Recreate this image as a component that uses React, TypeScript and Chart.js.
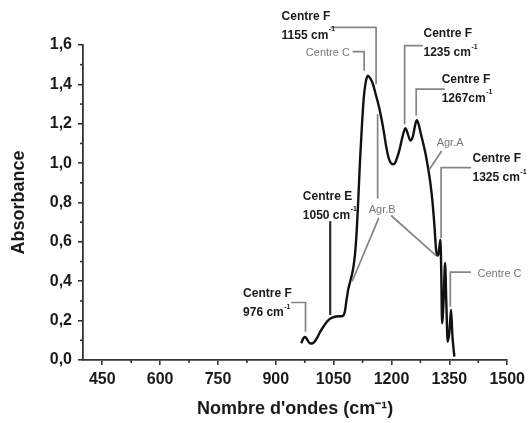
import React, { useEffect, useRef } from "react";
import { Chart, registerables } from "chart.js";

Chart.register(...registerables);

// ---- spectrum data (wavenumber cm-1, absorbance) ----
const WAVENUMBERS = [
  966, 970, 975, 979, 983, 988, 994, 1000, 1007, 1013, 1022, 1031, 1038, 1044, 1050, 1057,
  1064, 1070, 1075, 1079, 1083, 1088, 1093, 1097, 1101, 1105, 1109, 1113, 1118, 1123,
  1128, 1133, 1138.5, 1145, 1152, 1160, 1167, 1174, 1180, 1186, 1192, 1197, 1203, 1209,
  1215, 1221, 1228, 1236, 1242, 1249, 1256, 1261, 1265.5, 1270, 1276, 1281, 1288, 1294,
  1300, 1306, 1311, 1315.6, 1319, 1322.5, 1326.7, 1329, 1331.1, 1335, 1338.9, 1342,
  1345.6, 1350, 1354.4, 1358, 1363,
];
const ABSORBANCE = [
  0.085, 0.105, 0.117, 0.112, 0.098, 0.086, 0.084, 0.092, 0.112, 0.136, 0.165, 0.19,
  0.205, 0.213, 0.218, 0.221, 0.222, 0.222, 0.226, 0.245, 0.3, 0.36, 0.4, 0.43, 0.47,
  0.53, 0.63, 0.78, 1.0, 1.18, 1.33, 1.41, 1.444, 1.43, 1.4, 1.342, 1.29, 1.225, 1.16,
  1.087, 1.03, 1.005, 0.994, 1.0, 1.03, 1.07, 1.13, 1.178, 1.15, 1.115, 1.14, 1.19,
  1.218, 1.2, 1.15, 1.11, 1.05, 0.985, 0.91, 0.81, 0.69, 0.56, 0.53, 0.545, 0.611,
  0.45, 0.187, 0.3, 0.493, 0.3, 0.093, 0.14, 0.255, 0.12, 0.017,
];

// ---- axis ticks ----
const X_TICKS = [450, 600, 750, 900, 1050, 1200, 1350, 1500];
const X_MINOR = [525, 675, 825, 975, 1125, 1275, 1425];
const Y_TICKS = [0, 0.2, 0.4, 0.6, 0.8, 1.0, 1.2, 1.4, 1.6];
const Y_MINOR = [0.1, 0.3, 0.5, 0.7, 0.9, 1.1, 1.3, 1.5];

// ---- callouts (data coordinates) ----
type Callout = {
  lines: { text: string; sup?: string; x: number; y: number; align?: CanvasTextAlign }[];
  bold: boolean;
  path: [number, number][][];
  dark?: boolean;
};

const CALLOUTS: Callout[] = [
  {
    bold: true,
    lines: [
      { text: "Centre F", x: 915, y: 1.743 },
      { text: "1155 cm", sup: "-1", x: 915, y: 1.648 },
    ],
    path: [[[1042, 1.69], [1160, 1.69], [1160, 1.401]]],
  },
  {
    bold: false,
    lines: [{ text: "Centre C", x: 1092, y: 1.561, align: "right" }],
    path: [[[1099, 1.566], [1129, 1.566], [1129, 1.469]]],
  },
  {
    bold: true,
    lines: [
      { text: "Centre F", x: 1283, y: 1.656 },
      { text: "1235 cm", sup: "-1", x: 1283, y: 1.559 },
    ],
    path: [[[1281, 1.597], [1234, 1.597], [1234, 1.198]]],
  },
  {
    bold: true,
    lines: [
      { text: "Centre F", x: 1330, y: 1.423 },
      { text: "1267cm", sup: "-1", x: 1330, y: 1.329 },
    ],
    path: [[[1338, 1.376], [1264, 1.376], [1264, 1.241]]],
  },
  {
    bold: false,
    lines: [{ text: "Agr.A", x: 1317, y: 1.104 }],
    path: [[[1330, 1.062], [1298, 0.968]]],
  },
  {
    bold: true,
    lines: [
      { text: "Centre F", x: 1410, y: 1.023 },
      { text: "1325 cm", sup: "-1", x: 1410, y: 0.926 },
    ],
    path: [[[1406, 0.977], [1328.5, 0.977], [1328.5, 0.62]]],
  },
  {
    bold: true,
    dark: true,
    lines: [
      { text: "Centre E", x: 970, y: 0.832 },
      { text: "1050 cm", sup: "-1", x: 970, y: 0.734 },
    ],
    path: [[[1041, 0.705], [1041, 0.229]]],
  },
  {
    bold: false,
    lines: [{ text: "Agr.B", x: 1141, y: 0.764 }],
    path: [
      [[1167, 0.722], [1098, 0.399]],
      [[1199, 0.734], [1315.6, 0.53]],
      [[1164, 1.249], [1164, 0.82]],
    ],
  },
  {
    bold: true,
    lines: [
      { text: "Centre F", x: 815, y: 0.335 },
      { text: "976 cm", sup: "-1", x: 815, y: 0.238 },
    ],
    path: [[[940, 0.292], [977, 0.292], [977, 0.144]]],
  },
  {
    bold: false,
    lines: [{ text: "Centre C", x: 1423, y: 0.437 }],
    path: [[[1406, 0.446], [1352.6, 0.446], [1352.6, 0.27]]],
  },
];

const FONT = "'Liberation Sans', Arial, Helvetica, sans-serif";

const annotationPlugin = {
  id: "callouts",
  afterDraw(chart: any) {
    const { ctx, scales } = chart;
    const xs = scales.x;
    const ys = scales.y;
    ctx.save();
    // minor ticks
    ctx.strokeStyle = "#333";
    ctx.lineWidth = 1.6;
    const bottom = chart.chartArea.bottom;
    const left = chart.chartArea.left;
    X_MINOR.forEach((v) => {
      const px = xs.getPixelForValue(v);
      ctx.beginPath();
      ctx.moveTo(px, bottom);
      ctx.lineTo(px, bottom + 3);
      ctx.stroke();
    });
    Y_MINOR.forEach((v) => {
      const py = ys.getPixelForValue(v);
      ctx.beginPath();
      ctx.moveTo(left - 3, py);
      ctx.lineTo(left, py);
      ctx.stroke();
    });

    CALLOUTS.forEach((c) => {
      ctx.strokeStyle = c.dark ? "#2a2a2a" : "#858585";
      ctx.lineWidth = c.dark ? 2.2 : 1.7;
      c.path.forEach((seg) => {
        ctx.beginPath();
        seg.forEach(([x, y], i) => {
          const px = xs.getPixelForValue(x);
          const py = ys.getPixelForValue(y);
          if (i === 0) ctx.moveTo(px, py);
          else ctx.lineTo(px, py);
        });
        ctx.stroke();
      });
      c.lines.forEach((l) => {
        const px = xs.getPixelForValue(l.x);
        const py = ys.getPixelForValue(l.y);
        ctx.font = c.bold ? `bold 12px ${FONT}` : `11px ${FONT}`;
        ctx.fillStyle = c.bold ? "#1a1a1a" : "#777";
        ctx.textAlign = l.align || "left";
        ctx.textBaseline = "middle";
        ctx.fillText(l.text, px, py);
        if (l.sup) {
          const w = ctx.measureText(l.text).width;
          ctx.font = `bold 7px ${FONT}`;
          ctx.textAlign = "left";
          ctx.fillText(l.sup, px + w + 0.5, py - 6);
        }
      });
    });
    ctx.restore();
  },
};

export default function App() {
  const canvasRef = useRef<HTMLCanvasElement | null>(null);

  useEffect(() => {
    document.body.style.margin = "0";
    const canvas = canvasRef.current;
    if (!canvas) return;
    const data = WAVENUMBERS.map((x, i) => ({ x, y: ABSORBANCE[i] }));
    const tickFont = { family: FONT, size: 16, weight: "bold" as const };
    const chart = new Chart(canvas, {
      type: "line",
      data: {
        datasets: [
          {
            data,
            borderColor: "#111",
            borderWidth: 2.4,
            pointRadius: 0,
            fill: false,
            cubicInterpolationMode: "monotone",
          },
        ],
      },
      options: {
        animation: false,
        responsive: false,
        devicePixelRatio: 1,
        layout: { padding: { top: 45, right: 22, left: 0, bottom: 0 } },
        plugins: { legend: { display: false }, tooltip: { enabled: false } },
        scales: {
          x: {
            type: "linear",
            min: 400,
            max: 1500,
            afterBuildTicks: (s: any) => {
              s.ticks = X_TICKS.map((v) => ({ value: v }));
            },
            afterFit: (s: any) => {
              s.height = 63;
            },
            ticks: {
              autoSkip: false,
              maxRotation: 0,
              padding: 5,
              color: "#1a1a1a",
              font: tickFont,
              callback: (v: any) => String(v),
            },
            grid: { drawOnChartArea: false, drawTicks: true, tickLength: 5, color: "#333", lineWidth: 1.6 },
            border: { display: true, color: "#333", width: 1.8 },
            title: {
              display: true,
              text: "Nombre d'ondes (cm⁻¹)",
              color: "#1a1a1a",
              font: { family: FONT, size: 18, weight: "bold" },
              padding: { top: 0, bottom: 3 },
            },
          },
          y: {
            type: "linear",
            min: 0,
            max: 1.6,
            afterBuildTicks: (s: any) => {
              s.ticks = Y_TICKS.map((v) => ({ value: v }));
            },
            afterFit: (s: any) => {
              s.width = 83;
            },
            ticks: {
              padding: 6,
              color: "#1a1a1a",
              font: tickFont,
              callback: (v: any) => Number(v).toFixed(1).replace(".", ","),
            },
            grid: { drawOnChartArea: false, drawTicks: true, tickLength: 5, color: "#333", lineWidth: 1.6 },
            border: { display: true, color: "#333", width: 1.8 },
            title: {
              display: true,
              text: "Absorbance",
              color: "#1a1a1a",
              font: { family: FONT, size: 18, weight: "bold" },
              padding: { top: 8, bottom: 0 },
            },
          },
        },
      },
      plugins: [annotationPlugin],
    });
    return () => chart.destroy();
  }, []);

  return (
    <div style={{ width: 530, height: 423, background: "#fff" }}>
      <canvas ref={canvasRef} width={530} height={423} style={{ display: "block" }} />
    </div>
  );
}
